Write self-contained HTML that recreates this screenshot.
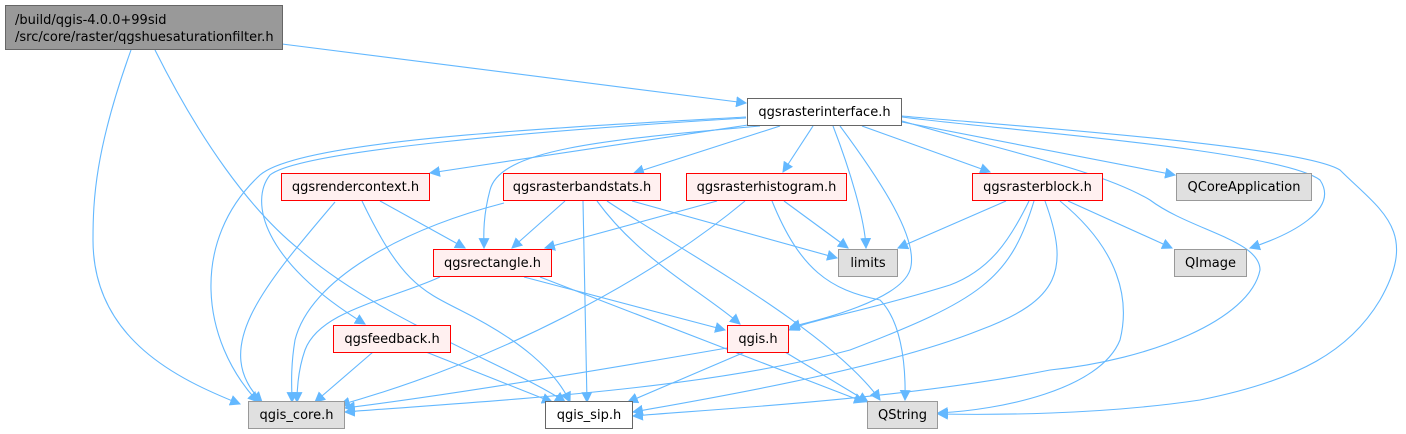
<!DOCTYPE html>
<html><head><meta charset="utf-8"><style>
html,body{margin:0;padding:0;background:#fff;width:1406px;height:434px;overflow:hidden}
svg text{font-family:"DejaVu Sans","Liberation Sans",sans-serif;font-size:13px;fill:#000}
</style></head><body>
<svg width="1406" height="434" viewBox="0 0 1406 434" xmlns="http://www.w3.org/2000/svg">
<defs><marker id="a" viewBox="0 0 10 10" refX="9" refY="5" markerWidth="11" markerHeight="11" markerUnits="userSpaceOnUse" orient="auto"><path d="M0,0 L10,5 L0,10 z" fill="#63b8ff"/></marker></defs>
<g fill="none" stroke="#63b8ff" stroke-width="1.1" marker-end="url(#a)">
<path d="M282,44 L746,103"/>
<path d="M131,50 C95,150 93,200 93,240 C93,340 180,380 240,404"/>
<path d="M155,50 C200,140 250,210 300,250 C380,320 520,370 565,402"/>
<path d="M748,125 L430,173"/>
<path d="M780,126 L634,173"/>
<path d="M813,126 L783,172"/>
<path d="M833,126 C850,170 865,220 866,248"/>
<path d="M840,126 C880,180 920,240 910,270 C900,300 820,320 790,327"/>
<path d="M862,126 L990,172"/>
<path d="M902,122 L1175,175"/>
<path d="M902,117 C1000,130 1280,150 1320,180 C1340,210 1290,235 1250,248"/>
<path d="M902,116 C1000,125 1300,145 1340,170 C1380,210 1420,230 1380,300 C1350,350 1300,380 1200,400 C1100,415 990,415 938,414"/>
<path d="M902,121 C1000,150 1100,170 1150,200 C1190,230 1260,240 1260,270 C1250,320 1150,360 1050,370 C900,400 700,410 633,416"/>
<path d="M746,117 C550,128 300,140 260,175 C190,240 200,340 258,402"/>
<path d="M746,118 C550,130 300,150 270,175 C250,200 260,260 365,324"/>
<path d="M760,126 C600,140 500,150 490,190 C482,220 484,240 484,248"/>
<path d="M335,202 C260,290 210,350 262,402"/>
<path d="M380,201 L465,248"/>
<path d="M362,201 C400,280 420,290 460,310 C520,340 555,370 570,402"/>
<path d="M565,201 L512,248"/>
<path d="M504,203 C400,230 310,280 295,340 C290,370 292,390 292,402"/>
<path d="M583,201 L587,402"/>
<path d="M597,201 C640,260 700,290 740,324"/>
<path d="M607,201 C680,250 830,330 880,400"/>
<path d="M632,201 L837,258"/>
<path d="M717,201 L545,248"/>
<path d="M745,201 C650,280 500,360 340,405"/>
<path d="M784,201 L848,248"/>
<path d="M772,201 C800,270 830,290 880,300 C900,320 906,360 905,400"/>
<path d="M440,277 C390,300 320,310 305,350 C298,370 297,390 297,402"/>
<path d="M524,277 L725,330"/>
<path d="M540,277 L864,402"/>
<path d="M373,352 L315,402"/>
<path d="M426,352 L552,402"/>
<path d="M727,348 C600,370 450,395 345,408"/>
<path d="M745,352 L628,402"/>
<path d="M785,352 L868,402"/>
<path d="M1006,201 L898,248"/>
<path d="M1029,201 C1010,240 990,270 950,285 C870,310 810,320 789,330"/>
<path d="M1034,201 C1010,280 980,300 850,350 C700,390 500,400 345,412"/>
<path d="M1045,201 C1070,270 1060,300 980,330 C880,370 700,400 633,412"/>
<path d="M1060,201 C1120,250 1130,300 1120,340 C1100,390 1000,410 938,413"/>
<path d="M1068,201 L1172,248"/>
</g>
<g stroke-width="1">
<rect x="5.5" y="5.5" width="277" height="44" fill="#999" stroke="#666"/>
<rect x="747.5" y="98.5" width="154" height="27" fill="#fff" stroke="#666"/>
<rect x="281.5" y="173.5" width="148" height="27" fill="#fff0f0" stroke="#f00"/>
<rect x="503.5" y="173.5" width="157" height="27" fill="#fff0f0" stroke="#f00"/>
<rect x="686.5" y="173.5" width="160" height="27" fill="#fff0f0" stroke="#f00"/>
<rect x="972.5" y="173.5" width="130" height="27" fill="#fff0f0" stroke="#f00"/>
<rect x="1176.5" y="173.5" width="135" height="27" fill="#e0e0e0" stroke="#999"/>
<rect x="433.5" y="249.5" width="118" height="27" fill="#fff0f0" stroke="#f00"/>
<rect x="838.5" y="249.5" width="59" height="27" fill="#e0e0e0" stroke="#999"/>
<rect x="1174.5" y="249.5" width="72" height="27" fill="#e0e0e0" stroke="#999"/>
<rect x="333.5" y="325.5" width="117" height="27" fill="#fff0f0" stroke="#f00"/>
<rect x="727.5" y="325.5" width="61" height="27" fill="#fff0f0" stroke="#f00"/>
<rect x="248.5" y="401.5" width="96" height="27" fill="#e0e0e0" stroke="#999"/>
<rect x="545.5" y="401.5" width="87" height="27" fill="#fff" stroke="#666"/>
<rect x="867.5" y="401.5" width="70" height="27" fill="#e0e0e0" stroke="#999"/>
</g>
<g>
<text x="15" y="24">/build/qgis-4.0.0+99sid</text>
<text x="15" y="41">/src/core/raster/qgshuesaturationfilter.h</text>
</g>
<g text-anchor="middle">
<text x="824.5" y="116">qgsrasterinterface.h</text>
<text x="355.5" y="191">qgsrendercontext.h</text>
<text x="582" y="191">qgsrasterbandstats.h</text>
<text x="766.5" y="191">qgsrasterhistogram.h</text>
<text x="1037.5" y="191">qgsrasterblock.h</text>
<text x="1244" y="191">QCoreApplication</text>
<text x="492.5" y="267">qgsrectangle.h</text>
<text x="868" y="267">limits</text>
<text x="1210.5" y="267">QImage</text>
<text x="392" y="343">qgsfeedback.h</text>
<text x="758" y="343">qgis.h</text>
<text x="296.5" y="419">qgis_core.h</text>
<text x="589" y="419">qgis_sip.h</text>
<text x="902.5" y="419">QString</text>
</g>
</svg>
</body></html>
